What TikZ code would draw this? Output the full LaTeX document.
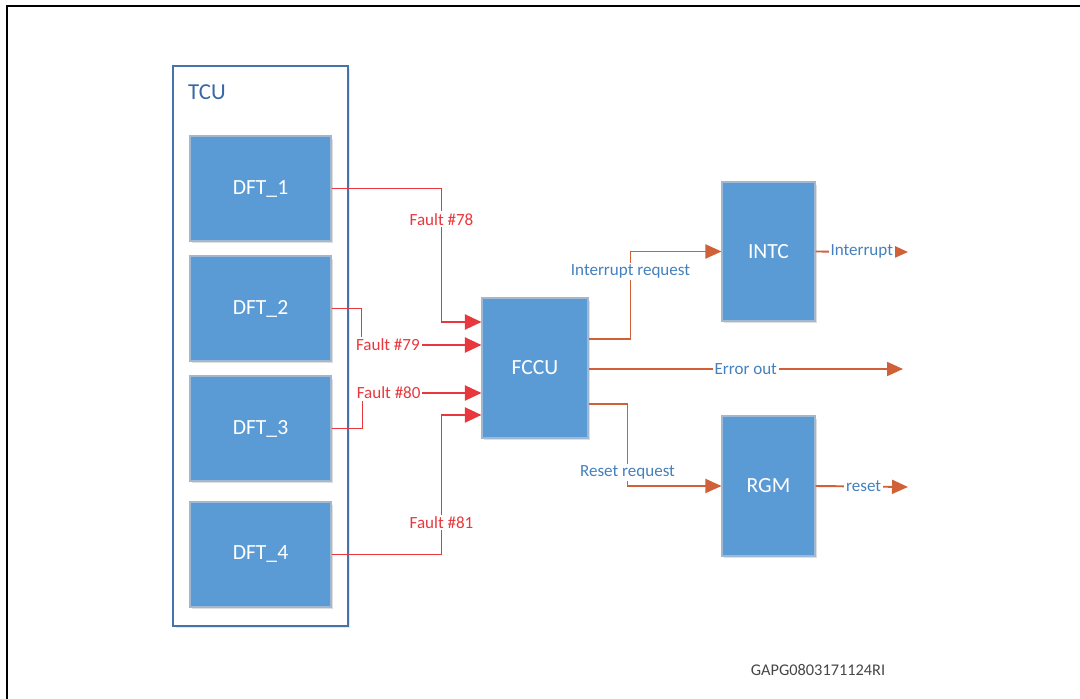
\documentclass[tikz,border=0pt]{standalone}
\usepackage{fontspec}
\setmainfont{Carlito}
\usetikzlibrary{arrows.meta, positioning, shadows}

\definecolor{blockblue}{RGB}{91,155,213}
\definecolor{blockedge}{RGB}{160,185,210}
\definecolor{tcuedge}{RGB}{70,115,170}
\definecolor{tcutext}{RGB}{55,105,165}
\definecolor{faultred}{RGB}{232,56,61}
\definecolor{sigorange}{RGB}{208,96,56}
\definecolor{labelblue}{RGB}{68,128,190}
\definecolor{idgray}{RGB}{70,70,70}

\begin{document}
\begin{tikzpicture}[
    x=0.02cm, y=-0.02cm,
    container/.style={rectangle, draw=tcuedge, line width=0.8pt, fill=white, minimum width=3.5cm, minimum height=11.2cm,
        drop shadow={shadow xshift=0.05cm, shadow yshift=-0.05cm, opacity=0.2}},
    block/.style={rectangle, draw=blockedge, line width=0.6pt, fill=blockblue, text=white, align=center,
        font=\fontsize{12.3}{14}\selectfont,
        drop shadow={shadow xshift=0.04cm, shadow yshift=-0.05cm, opacity=0.25}},
    dft/.style={block, minimum width=2.82cm, minimum height=2.1cm},
    fault/.style={draw=faultred, line width=1.1pt, -{Triangle[length=0.33cm, width=0.3cm]}},
    signal/.style={draw=sigorange, line width=1.1pt, -{Triangle[length=0.32cm, width=0.28cm]}},
    flabel/.style={fill=white, text=faultred, inner sep=1pt, font=\fontsize{9.7}{11}\selectfont},
    slabel/.style={fill=white, text=labelblue, inner sep=1pt, font=\fontsize{9.7}{11}\selectfont}
]
\useasboundingbox (0,0) rectangle (1080,699);

% Frame
\draw[line width=1.4pt] (7,699) -- (7,6) -- (1080,6);

% TCU and its DFT blocks
\node[container] (tcu) at (260.5,346) {};
\node[anchor=west, text=tcutext, font=\fontsize{13}{15}\selectfont] (tcutitle) at (182,92) {TCU};
\node[dft] (d1) at (260.5,188.5) {DFT\_1};
\node[dft] (d2) at (260.5,308.5) {DFT\_2};
\node[dft] (d3) at (260.5,428.5) {DFT\_3};
\node[dft] (d4) at (260.5,554.5) {DFT\_4};

% Other blocks
\node[block, minimum width=2.12cm, minimum height=2.8cm] (fccu) at (535,368) {FCCU};
\node[block, minimum width=1.86cm, minimum height=2.78cm] (intc) at (768.5,251.5) {INTC};
\node[block, minimum width=1.86cm, minimum height=2.8cm] (rgm) at (768.5,486) {RGM};

% Free ends
\coordinate (errout) at (903,369);
\coordinate (irqout) at (908,252);
\coordinate (rstout) at (908,487);

% Fault lines
\draw[fault] (d1.east) -| ([xshift=-0.8cm, yshift=0.92cm]fccu.west)
    node[flabel, pos=0.615] {Fault \#78} -- ([yshift=0.92cm]fccu.west);
\draw[fault] (d2.east) -| ([xshift=-2.4cm, yshift=0.46cm]fccu.west)
    -- node[flabel, pos=0.22] {Fault \#79} ([yshift=0.46cm]fccu.west);
\draw[fault] (d3.east) -| ([xshift=-2.38cm, yshift=-0.5cm]fccu.west)
    -- node[flabel, pos=0.22] {Fault \#80} ([yshift=-0.5cm]fccu.west);
\draw[fault] (d4.east) -| ([xshift=-0.8cm, yshift=-0.94cm]fccu.west)
    node[flabel, pos=0.615] {Fault \#81} -- ([yshift=-0.94cm]fccu.west);

% FCCU outputs
\draw[signal] ([yshift=0.58cm]fccu.east) -| ([xshift=-1.82cm]intc.west)
    node[slabel, pos=0.886] {Interrupt request} -- (intc.west);
\draw[signal] ([yshift=-0.02cm]fccu.east) -- node[slabel] {Error out} (errout);
\draw[signal] ([yshift=-0.72cm]fccu.east) -| ([xshift=-1.88cm]rgm.west)
    node[slabel, pos=0.92] {Reset request} -- (rgm.west);
\draw[signal] (intc.east) -- node[slabel] {Interrupt} (irqout);
\draw[signal] (rgm.east) -- node[slabel, pos=0.52] {reset} (rstout);

% Figure id
\node[text=idgray, font=\fontsize{9.3}{11}\selectfont] (figid) at (818,670) {GAPG0803171124RI};
\end{tikzpicture}
\end{document}
